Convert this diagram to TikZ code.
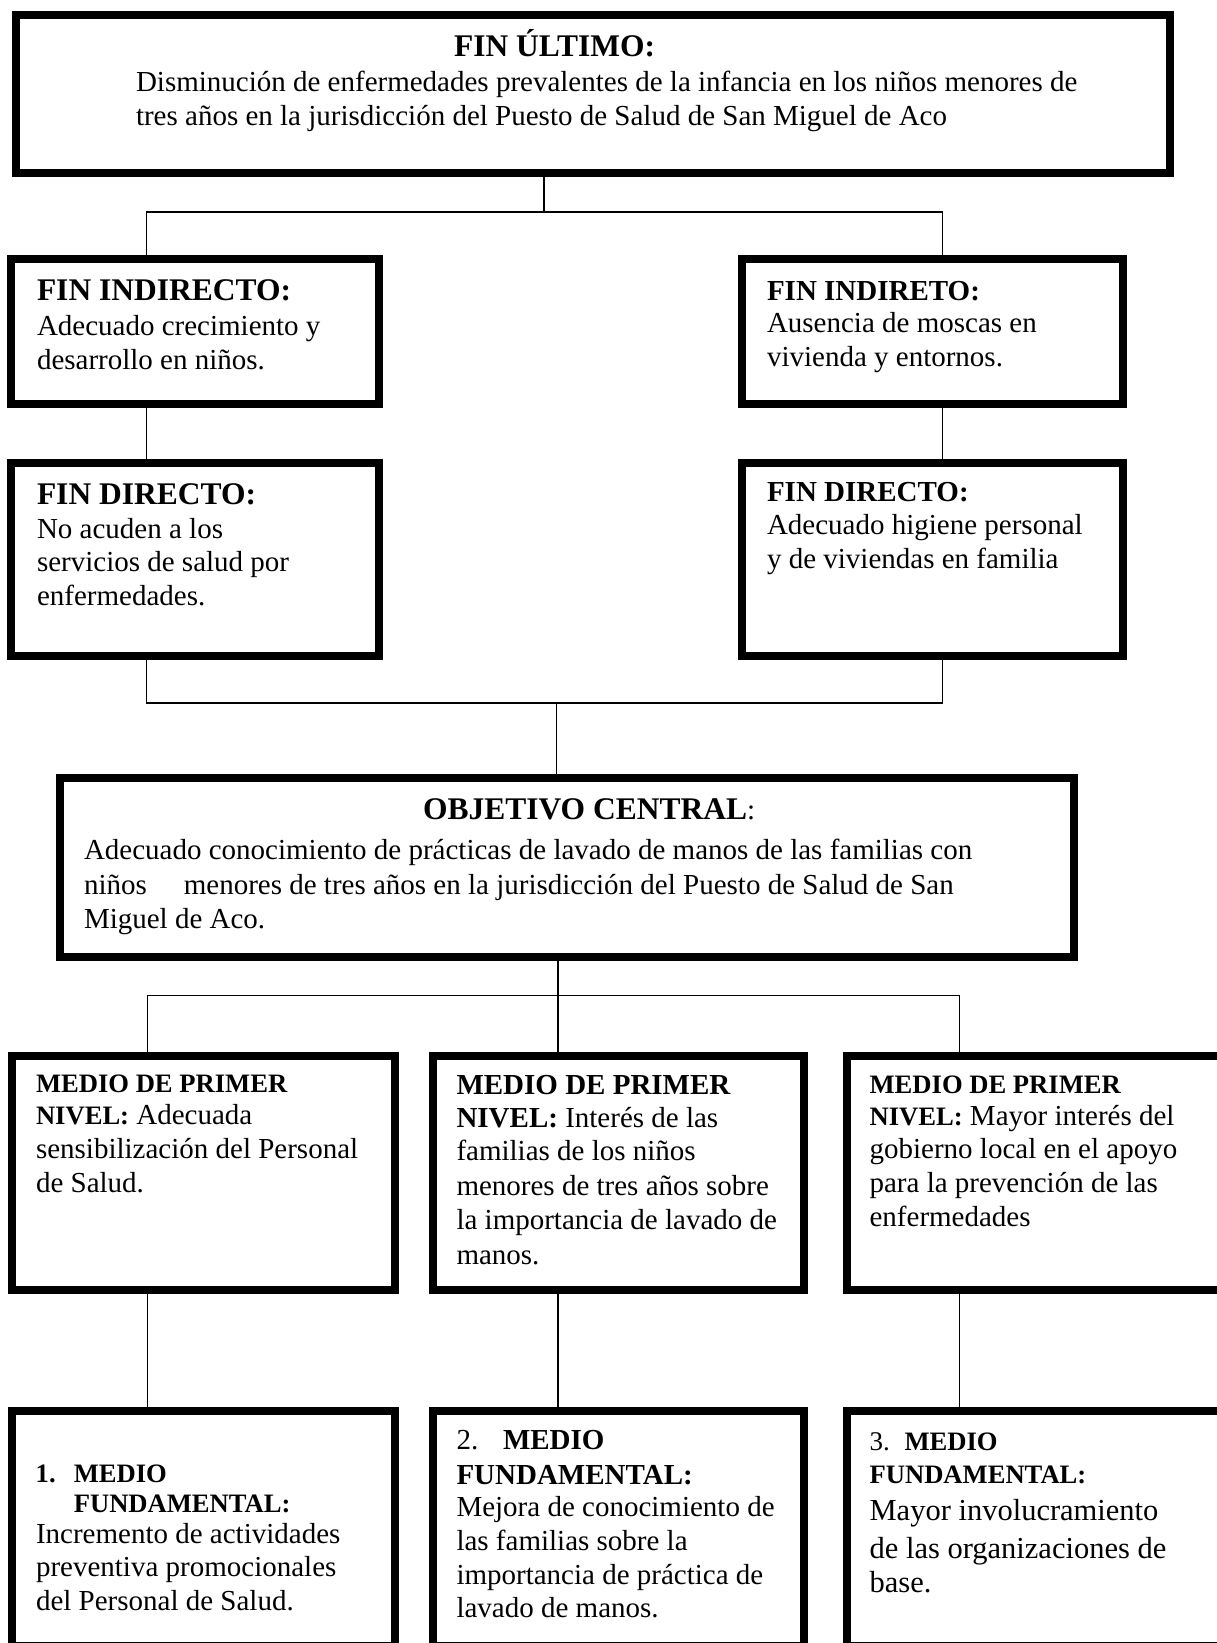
\documentclass[tikz,border=0pt]{standalone}
\usepackage{fontspec}
\setmainfont{Liberation Serif}
\newcommand\fsz[1]{\fontsize{#1}{#1}\selectfont}
\begin{document}
\begin{tikzpicture}[x=1pt,y=-1pt,
  box/.style={draw,line width=8pt,rectangle,inner sep=0pt,outer sep=0pt},
  conn/.style={draw,line width=1.3pt},
  ln/.style={anchor=base west,inner sep=0pt,outer sep=0pt,font=\fsz{29}},
  lnb/.style={ln,font=\fsz{30.5}},
  hd/.style={ln,font=\bfseries\fsz{31.5}},
  hds/.style={ln,font=\bfseries\fsz{29}},
  hdm/.style={ln,font=\bfseries\fsz{26.6}}]
\useasboundingbox (0,0) rectangle (1217,1643);
\fill[white] (0,0) rectangle (1217,1643);
\clip (0,0) rectangle (1217,1643);

% ---------- boxes ----------
\node[box,minimum width=1154pt,minimum height=158pt] (top) at (593,94) {};
\node[box,minimum width=368pt,minimum height=145pt] (fi1) at (195,331.5) {};
\node[box,minimum width=381pt,minimum height=145pt] (fi2) at (932.5,331.5) {};
\node[box,minimum width=368pt,minimum height=193pt] (fd1) at (195,559.5) {};
\node[box,minimum width=381pt,minimum height=193pt] (fd2) at (932.5,559.5) {};
\node[box,minimum width=1014pt,minimum height=179pt] (obj) at (567,867.5) {};
\node[box,minimum width=383pt,minimum height=234pt] (ma) at (203.5,1173) {};
\node[box,minimum width=371pt,minimum height=234pt] (mb) at (618.5,1173) {};
\node[box,minimum width=379pt,minimum height=234pt] (mc) at (1036.5,1173) {};
\node[box,minimum width=383pt,minimum height=234.5pt] (fa) at (203.5,1528.25) {};
\node[box,minimum width=371pt,minimum height=234.5pt] (fb) at (618.5,1528.25) {};
\node[box,minimum width=379pt,minimum height=234.5pt] (fc) at (1036.5,1528.25) {};

% ---------- connector positions ----------
\coordinate (xL) at (146.7,0);
\coordinate (xR) at (942.5,0);
\coordinate (xL2) at (147.5,0);
\coordinate (xM2) at (558,0);
\coordinate (xR2) at (959.6,0);
\coordinate (j1) at (544,212);
\coordinate (j2) at (556.7,703);
\coordinate (j3) at (558,995.5);

\draw[conn] (top.south -| j1) -- (j1);
\draw[conn] (fi1.north -| xL) |- (j1) -| (fi2.north -| xR);
\draw[conn] (fi1.south -| xL) -- (fd1.north -| xL);
\draw[conn] (fi2.south -| xR) -- (fd2.north -| xR);
\draw[conn] (fd1.south -| xL) |- (j2) -| (fd2.south -| xR);
\draw[conn] (j2) -- (obj.north -| j2);
\draw[conn] (obj.south -| j3) -- (j3);
\draw[conn] (ma.north -| xL2) |- (j3) -| (mc.north -| xR2);
\draw[conn] (j3) -- (mb.north -| j3);
\draw[conn] (ma.south -| xL2) -- (fa.north -| xL2);
\draw[conn] (mb.south -| xM2) -- (fb.north -| xM2);
\draw[conn] (mc.south -| xR2) -- (fc.north -| xR2);

% ---------- texts ----------
\node[hd] (t0) at (454,57) {FIN ÚLTIMO:};
\node[ln] (t1) at (136,91.5) {Disminución de enfermedades prevalentes de la infancia en los niños menores de};
\node[ln] (t2) at (136,126) {tres años en la jurisdicción del Puesto de Salud de San Miguel de Aco};

\node[hd] (a0) at (37,300.5) {FIN INDIRECTO:};
\node[ln] (a1) at (37,335) {Adecuado crecimiento y};
\node[ln] (a2) at (37,369) {desarrollo en niños.};

\node[hds] (b0) at (767,300) {FIN INDIRETO:};
\node[ln] (b1) at (767,332) {Ausencia de moscas en};
\node[ln] (b2) at (767,366) {vivienda y entornos.};

\node[hd] (c0) at (37,504) {FIN DIRECTO:};
\node[ln] (c1) at (37,538) {No acuden a los};
\node[ln] (c2) at (37,571.5) {servicios de salud por};
\node[ln] (c3) at (37,605) {enfermedades.};

\node[hds] (d0) at (767,501.5) {FIN DIRECTO:};
\node[ln] (d1) at (767,534.5) {Adecuado higiene personal};
\node[ln] (d2) at (767,568) {y de viviendas en familia};

\node[ln] (e0) at (423,819) {{\fsz{31.5}\bfseries OBJETIVO CENTRAL}:};
\node[ln] (e1) at (84,859) {Adecuado conocimiento de prácticas de lavado de manos de las familias con};
\node[ln] (e2) at (84,894) {niños\hspace{37pt}menores de tres años en la jurisdicción del Puesto de Salud de San};
\node[ln] (e3) at (84,928) {Miguel de Aco.};

\node[hdm] (f0) at (36,1092.7) {MEDIO DE PRIMER};
\node[ln] (f1) at (36,1124) {{\bfseries\fsz{26.6}NIVEL:} Adecuada};
\node[ln] (f2) at (36,1158) {sensibilización del Personal};
\node[ln] (f3) at (36,1192) {de Salud.};

\node[hds] (g0) at (456.5,1094.5) {MEDIO DE PRIMER};
\node[ln] (g1) at (456.5,1127.5) {{\bfseries NIVEL:} Interés de las};
\node[ln] (g2) at (456.5,1160.5) {familias de los niños};
\node[ln] (g3) at (456.5,1195) {menores de tres años sobre};
\node[ln] (g4) at (456.5,1229.7) {la importancia de lavado de};
\node[ln] (g5) at (456.5,1264) {manos.};

\node[hdm] (h0) at (869.6,1093) {MEDIO DE PRIMER};
\node[ln] (h1) at (869.6,1125) {{\bfseries\fsz{26.6}NIVEL:} Mayor interés del};
\node[ln] (h2) at (869.6,1158) {gobierno local en el apoyo};
\node[ln] (h3) at (869.6,1192.6) {para la prevención de las};
\node[ln] (h4) at (869.6,1226) {enfermedades};

\node[hdm] (p0) at (35.7,1482) {1.};
\node[hdm] (p1) at (73.8,1482) {MEDIO};
\node[hdm] (p2) at (73.8,1512) {FUNDAMENTAL:};
\node[ln] (p3) at (36,1543) {Incremento de actividades};
\node[ln] (p4) at (36,1576) {preventiva promocionales};
\node[ln] (p5) at (36,1610.5) {del Personal de Salud.};

\node[ln] (q0) at (456.5,1449.5) {2.};
\node[hds] (q1) at (503,1449.5) {MEDIO};
\node[hds] (q2) at (456.5,1484) {FUNDAMENTAL:};
\node[ln] (q3) at (456.5,1516) {Mejora de conocimiento de};
\node[ln] (q4) at (456.5,1550) {las familias sobre la};
\node[ln] (q5) at (456.5,1584) {importancia de práctica de};
\node[ln] (q6) at (456.5,1617.6) {lavado de manos.};

\node[ln,font=\fsz{27}] (r0) at (869.6,1450) {3.};
\node[hdm] (r1) at (904.5,1450) {MEDIO};
\node[hdm] (r2) at (869.6,1483.6) {FUNDAMENTAL:};
\node[lnb] (r3) at (869.6,1520.5) {Mayor involucramiento};
\node[lnb] (r4) at (869.6,1558) {de las organizaciones de};
\node[lnb] (r5) at (869.6,1592) {base.};
\end{tikzpicture}
\end{document}
